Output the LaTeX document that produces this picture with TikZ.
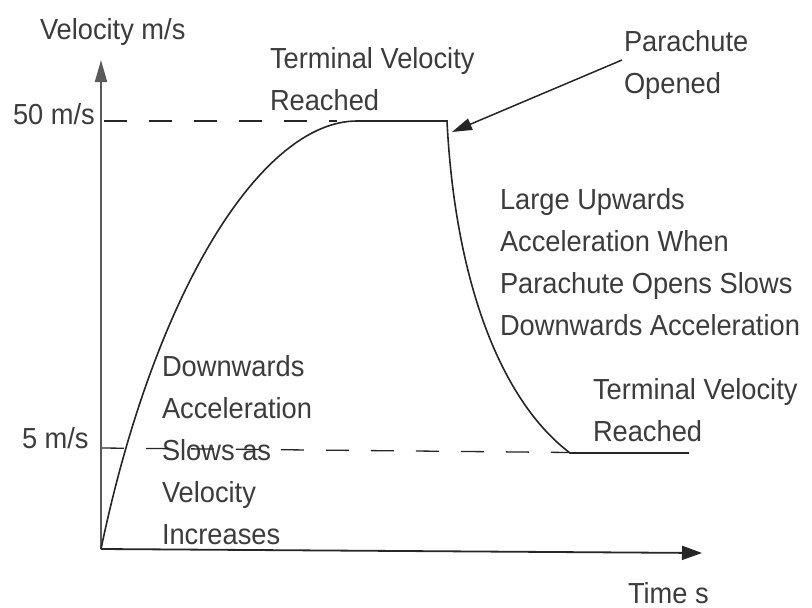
\documentclass[tikz,border=0pt]{standalone}
\usepackage{fontspec}
\newfontfamily\labfont{Liberation Sans}[FakeStretch=0.94]
\usetikzlibrary{arrows.meta}
\definecolor{txt}{HTML}{3C3C3C}
\definecolor{ln}{HTML}{262626}
\definecolor{ax}{HTML}{5A5A5A}
\tikzset{
  lbl/.style={anchor=north west,inner sep=0pt,outer sep=0pt,align=left,text=txt,
    font=\labfont\fontsize{29}{42}\selectfont},
  curve/.style={draw=ln,line width=1.6pt},
  axisline/.style={draw=ax,line width=1.8pt},
  dashline/.style={draw=ln,line width=1.3pt,dash pattern=on 23pt off 22pt},
}
\begin{document}
\begin{tikzpicture}[x=1pt,y=-1pt]
\useasboundingbox[fill=white] (0,0) rectangle (812,608);
% coordinates
\coordinate (O) at (101,549);
\coordinate (ytop) at (101,60);
\coordinate (xend) at (702,553);
\coordinate (d50a) at (104,121);
\coordinate (d50b) at (337,121);
\coordinate (peak) at (357,121);
\coordinate (open) at (447,121);
\coordinate (low) at (570,453);
\coordinate (lowend) at (689,453);
\coordinate (d5a) at (101,448);
\coordinate (d5b) at (570,452.5);
\coordinate (arrtip) at (452,132);
\coordinate (arrstart) at (622,60);
% labels
\node[lbl] (vlab) at (40,18) {Velocity m/s};
\node[lbl] (term1) at (270,47) {Terminal Velocity\\Reached};
\node[lbl] (v50) at (13,103) {50 m/s};
\node[lbl] (para) at (624,30) {Parachute\\Opened};
\node[lbl] (large) at (500,188) {Large Upwards\\Acceleration When\\Parachute Opens Slows\\Downwards Acceleration};
\node[lbl] (down) at (162,355) {Downwards\\Acceleration\\Slows as\\Velocity\\Increases};
\node[lbl] (v5) at (22,427) {5 m/s};
\node[lbl] (term2) at (593,378) {Terminal Velocity\\Reached};
\node[lbl] (time) at (628,582) {Time s};
% dashed guide lines
\draw[dashline] (d50a) -- (d50b);
\draw[dashline] (d5a) -- (d5b);
% axes
\draw[axisline,-{Triangle[length=22pt,width=12pt]}] (O) -- (ytop);
\draw[draw=ln,line width=1.8pt,-{Triangle[length=20pt,width=14pt]}] (O) -- (xend);
% velocity curve
\draw[curve] (O) .. controls (155,290) and (262,121) .. (peak) -- (open)
  .. controls (455,280) and (500,400) .. (low) -- (lowend);
% parachute arrow
\draw[draw=ln,line width=1.5pt,-{Triangle[length=20pt,width=12pt]}] (arrstart) -- (arrtip);
\end{tikzpicture}
\end{document}
